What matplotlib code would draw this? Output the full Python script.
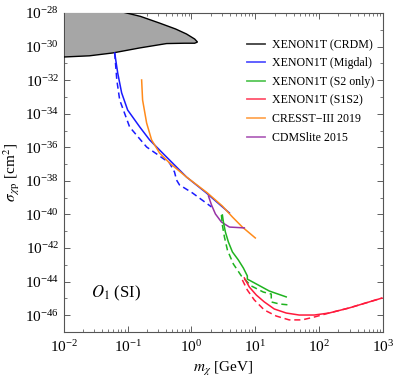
import numpy as np
import matplotlib
matplotlib.use("Agg")
import matplotlib.pyplot as plt
from matplotlib.ticker import LogLocator, NullFormatter, FixedLocator
from matplotlib.lines import Line2D

plt.rcParams["font.family"] = ["Liberation Serif", "DejaVu Serif"]
plt.rcParams["mathtext.fontset"] = "stix"

# ---- data: log10(m / GeV) and log10(sigma / cm^2) ----
crdm_top_logm = [-2.0, -1.125, -0.80, -0.50, -0.25, -0.078, 0.05, 0.094]
crdm_top_logs = [-28.0, -28.0, -28.2, -28.6, -28.95, -29.25, -29.55, -29.73]
crdm_bot_logm = [0.094, 0.05, -0.11, -0.39, -0.81, -1.234, -1.6, -2.0]
crdm_bot_logs = [-29.73, -29.80, -29.80, -29.82, -30.08, -30.38, -30.55, -30.62]

migdal_logm = [-1.203, -1.156, -1.094, -1.0, -0.81, -0.656, -0.453, -0.078, 0.234, 0.594]
migdal_logs = [-30.38, -31.57, -32.76, -33.78, -34.79, -35.56, -36.34, -37.77, -38.72, -39.91]
migdal_d_logm = [-1.203, -1.17, -1.125, -0.969, -0.703, -0.344, -0.266, -0.234, -0.188, 0.016, 0.313]
migdal_d_logs = [-30.38, -31.99, -33.18, -34.79, -35.98, -36.93, -37.47, -37.95, -38.24, -38.72, -39.55]

cresst_logm = [-0.781, -0.766, -0.703, -0.625, -0.5, -0.344, -0.078, 0.25, 0.484, 0.641, 0.797, 1.0]
cresst_logs = [-31.99, -33.18, -34.55, -35.56, -36.34, -36.93, -37.77, -38.72, -39.50, -40.15, -40.75, -41.40]

cdms_logm = [0.266, 0.313, 0.375, 0.469, 0.594, 0.828]
cdms_logs = [-38.9, -39.43, -39.97, -40.45, -40.75, -40.80]

s2_logm = [0.484, 0.5, 0.531, 0.578, 0.641, 0.734, 0.813, 0.875, 0.875, 1.016, 1.219, 1.484]
s2_logs = [-40.03, -40.45, -41.04, -41.64, -42.23, -42.71, -43.19, -43.66, -43.85, -44.14, -44.56, -44.91]
s2_d_logm = [0.469, 0.484, 0.516, 0.563, 0.656, 0.781, 0.938, 1.125, 1.25, 1.25, 1.375, 1.531]
s2_d_logs = [-40.03, -40.63, -41.34, -42.12, -42.95, -43.66, -44.26, -44.62, -44.74, -45.21, -45.33, -45.39]

s1s2_logm = [0.828, 0.906, 1.016, 1.141, 1.297, 1.484, 1.688, 1.922, 2.156, 2.469, 2.984]
s1s2_logs = [-43.78, -44.32, -44.80, -45.21, -45.63, -45.87, -45.99, -45.99, -45.87, -45.57, -44.98]
s1s2_d_logm = [0.797, 0.875, 0.984, 1.141, 1.328, 1.531, 1.734, 1.922, 2.156, 2.469, 2.984]
s1s2_d_logs = [-43.90, -44.50, -45.09, -45.69, -46.05, -46.28, -46.28, -46.11, -45.87, -45.57, -44.98]

labels = ["XENON1T (CRDM)", "XENON1T (Migdal)", "XENON1T (S2 only)",
          "XENON1T (S1S2)", "CRESST\u2212III 2019", "CDMSlite 2015"]
colors = ["#000000", "#1a1aff", "#1fb31f", "#ff1a3c", "#ff8a1a", "#9933a6"]

def p(a):
    return 10.0 ** np.asarray(a)

fig = plt.figure(figsize=(3.94, 3.77), dpi=100)
ax = fig.add_axes([0.162, 0.1194, 0.810, 0.8461])
ax.set_xscale("log")
ax.set_yscale("log")

# CRDM excluded region
poly_m = np.concatenate([crdm_top_logm, crdm_bot_logm])
poly_s = np.concatenate([crdm_top_logs, crdm_bot_logs])
poly_s = np.where(poly_s >= -28.0, -27.9, poly_s)
ax.fill(p(poly_m), p(poly_s), facecolor="#a6a6a6", edgecolor="black", lw=1.0, zorder=3)

lw = 1.1
ax.plot(p(migdal_logm), p(migdal_logs), color=colors[1], lw=lw, zorder=4)
ax.plot(p(migdal_d_logm), p(migdal_d_logs), color=colors[1], lw=lw, ls=(0, (4, 2.5)), zorder=4)
ax.plot(p(cresst_logm), p(cresst_logs), color=colors[4], lw=lw, zorder=4)
ax.plot(p(cdms_logm), p(cdms_logs), color=colors[5], lw=lw, zorder=4)
ax.plot(p(s2_logm), p(s2_logs), color=colors[2], lw=lw, zorder=4)
ax.plot(p(s2_d_logm), p(s2_d_logs), color=colors[2], lw=lw, ls=(0, (4, 2.5)), zorder=4)
ax.plot(p(s1s2_logm), p(s1s2_logs), color=colors[3], lw=lw, zorder=4)
ax.plot(p(s1s2_d_logm), p(s1s2_d_logs), color=colors[3], lw=lw, ls=(0, (4, 2.5)), zorder=4)

ax.set_xlim(1e-2, 1e3)
ax.set_ylim(1e-47, 1e-28)

ax.xaxis.set_major_locator(LogLocator(base=10, numticks=20))
ax.xaxis.set_minor_locator(LogLocator(base=10, subs=np.arange(2, 10), numticks=20))
ax.xaxis.set_minor_formatter(NullFormatter())
ax.yaxis.set_major_locator(FixedLocator([10.0 ** e for e in range(-46, -27, 2)]))
ax.yaxis.set_minor_locator(FixedLocator([10.0 ** e for e in range(-47, -27, 2)]))
ax.yaxis.set_minor_formatter(NullFormatter())

ax.tick_params(which="both", direction="in", top=True, right=True, labelsize=11, color="#444444")
ax.tick_params(which="major", length=4, width=0.6)
ax.tick_params(which="minor", length=2.2, width=0.5)
ax.tick_params(axis="x", pad=5)
for s in ax.spines.values():
    s.set_linewidth(0.8)
    s.set_color("#555555")

ax.set_xlabel(r"$m_\chi$ [GeV]", fontsize=11, labelpad=4)
ax.set_ylabel(r"$\sigma_{\,\chi\mathrm{p}}$ [cm$^2$]", fontsize=11, labelpad=2)

ax.text(0.085, 0.108, r"$O_1$ (SI)", transform=ax.transAxes, fontsize=12)

handles = [Line2D([], [], color=c, lw=1.3, alpha=0.75) for c in colors]
ax.legend(handles, labels, loc="upper right", bbox_to_anchor=(1.0, 0.945), frameon=False,
          fontsize=8.6, handlelength=1.5, handletextpad=0.6, labelspacing=0.55,
          borderaxespad=0.3)

fig.savefig("out.png", dpi=100)
